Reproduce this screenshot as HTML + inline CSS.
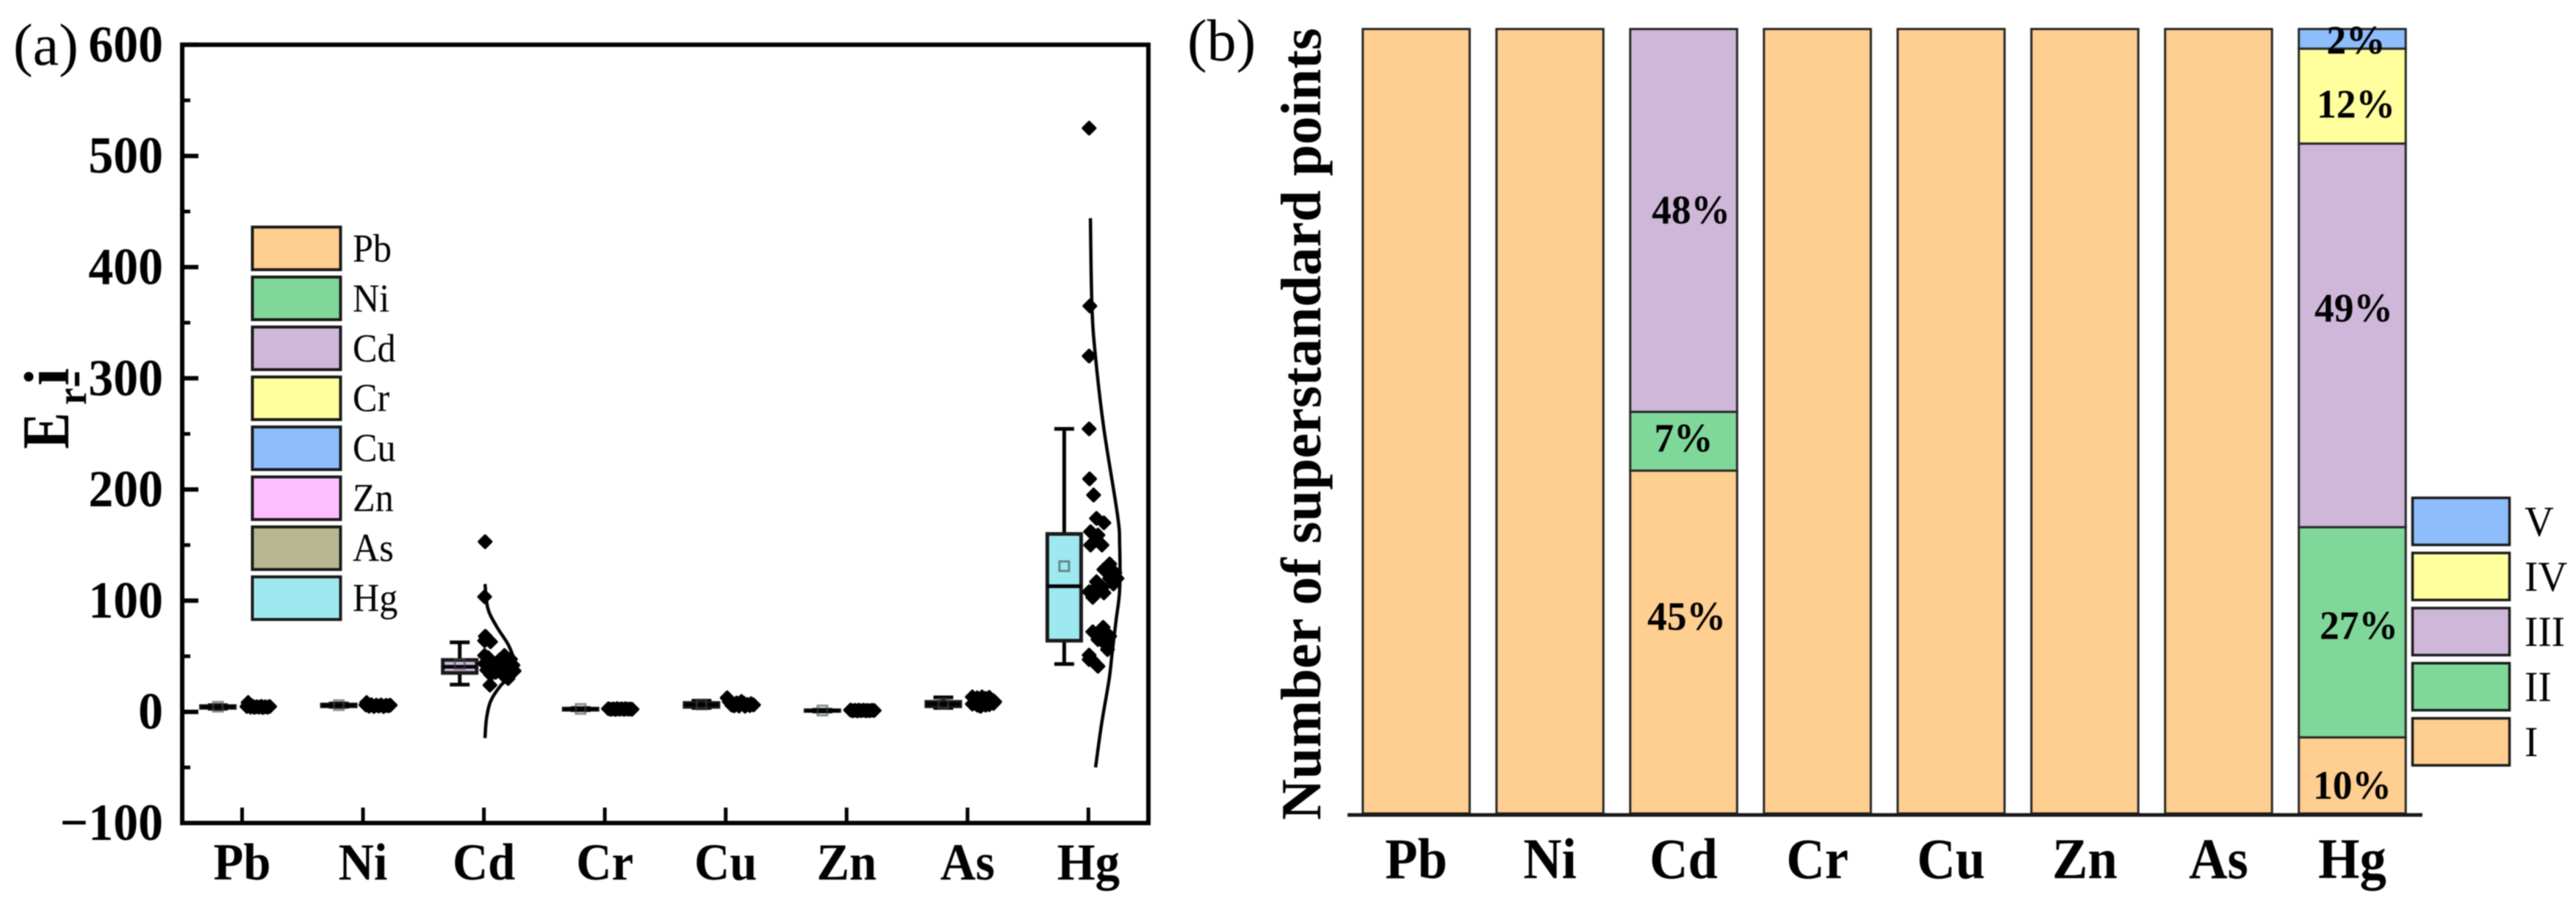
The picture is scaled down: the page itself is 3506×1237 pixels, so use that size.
<!DOCTYPE html>
<html lang="en">
<head>
<meta charset="utf-8">
<title>Er-i box plot and superstandard points stacked bars</title>
<style>
html,body{margin:0;padding:0;background:#fff;width:3506px;height:1237px;overflow:hidden}
svg{display:block;filter:blur(0.7px)}
text{font-family:"Liberation Serif",serif;fill:#000}
.b{font-weight:bold}
</style>
</head>
<body>
<svg id="fig" xmlns="http://www.w3.org/2000/svg" width="3506" height="1237" viewBox="0 0 3506 1237">
<rect width="3506" height="1237" fill="#fff"/>
<text x="18" y="88" font-size="80">(a)</text>
<text x="1616" y="82" font-size="80">(b)</text>
<g>
<text class="b" font-size="91" transform="translate(93,611) rotate(-90) scale(.82,1)">E</text>
<text class="b" font-size="58" transform="translate(117,551) rotate(-90) scale(.9,1)">r</text>
<text class="b" font-size="72" transform="translate(122,528) rotate(-90)">-</text>
<text class="b" font-size="87" transform="translate(93,525) rotate(-90)">i</text>
</g>
<text class="b" font-size="77" textLength="1078" lengthAdjust="spacingAndGlyphs" transform="translate(1797,1116) rotate(-90)">Number of superstandard points</text>
<g id="panelA"></g>
<g id="panelB"></g>
</svg>
<script>
// ---------- shared data ----------
const metals = ['Pb','Ni','Cd','Cr','Cu','Zn','As','Hg'];
const yTicksA = [-100,0,100,200,300,400,500,600];
const yMinorTicksA = [-50,50,150,250,350,450,550];

// ---------- panel (a) box statistics ----------
const whiskerLow = [2.8,4.5,24.5,1.5,3.5,0.3,3.5,43];
const quartile1 = [3.6,5,35,1.9,4.5,0.8,5,64];
const medians = [4.4,5.8,40.5,2.4,6.4,1.1,7,113];
const quartile3 = [5.2,6.6,46.7,2.9,8,1.4,9,160];
const whiskerHigh = [6,7.5,62.5,3.4,10,1.9,13,254.5];
const means = [4.6,6,43,2.6,6.6,1.2,7.4,131];

// ---------- panel (a) points: values and horizontal jitter (category units) ----------
const pbPoints = [8.4,4.8,4.2,5,4,4.6,4.2,4.9,3.9,4.5,4.1,4.8];
const pbJitter = [.05,.04,.07,.09,.1,.12,.14,.16,.17,.19,.21,.228];
const niPoints = [8.4,6.2,5,6.4,4.8,6,5.2,6.2,4.7,5.8,5.4,6];
const niJitter = [.03,.024,.05,.07,.09,.11,.13,.15,.17,.19,.21,.225];
const cdPoints = [153,103.5,68,63,64,50.7,48.7,50.7,47.4,46.7,43.4,42,43.4,42,36.8,37.5,35.5,32,30,38.8,33.5,36.8,45,24];
const cdJitter = [.01,.006,.012,.055,.006,.006,.036,.17,.22,.13,.085,.24,.006,.17,.25,.024,.097,.17,.2,.13,.055,.21,.05,.05];
const crPoints = [2.8,2.2,2.6,2.1,2.9,2.3,2.7,2.2,2.8,2.4,2.5,2.3];
const crJitter = [.03,.05,.07,.09,.1,.12,.14,.16,.17,.19,.21,.225];
const cuPoints = [12.6,9,6,9.4,5.4,8,5.2,7.8,5,6.6,5.6,6.2,7.4];
const cuJitter = [.012,.03,.05,.13,.07,.09,.11,.15,.16,.18,.2,.23,.21];
const znPoints = [1.6,0.9,1.4,0.8,1.5,1,1.5,0.9,1.3,1,1.4,1.2];
const znJitter = [.033,.05,.07,.09,.1,.12,.14,.16,.17,.19,.21,.228];
const asPoints = [13.4,7,12.6,6,13.4,5,12,6,13,6.4,10,7.6,9,5.4];
const asJitter = [.04,.04,.08,.08,.12,.11,.15,.15,.18,.18,.215,.215,.225,.1];
const hgPoints = [525,365,320,254.5,209.5,195,174,170,162,159,150,150,155,133,125,128,120,117,120,108,112,107,115,103,112,124,76,72,68,65,61,56,51,46,41,47,70];
const hgJitter = [.006,.012,.006,.006,.01,.043,.067,.128,.018,.079,.018,.112,.067,.176,.219,.128,.237,.067,.176,.006,.067,.128,.207,.036,.116,.188,.122,.036,.176,.079,.14,.158,.006,.036,.079,.006,.109];

// ---------- panel (a) density curves ----------
const cdCurveValues = [115,93,77,61,50,42,31.5,23.6,9.7,-6,-23.6];
const cdCurveDensity = [0,.095,.38,.76,.93,1,.83,.52,.19,.05,0];
const hgCurveValues = [444,365,319,255,177,150,109.5,82,52.7,29,-11,-50];
const hgCurveDensity = [.03,.08,.2,.475,.93,1,1,.88,.75,.65,.4,.2];

// ---------- panel (b) stacked percentages ----------
const levelNames = ['I','II','III','IV','V'];
const levelI = [100,100,43.7,100,100,100,100,9.7];
const levelII = [0,0,7.5,0,0,0,0,26.8];
const levelIII = [0,0,48.8,0,0,0,0,48.9];
const levelIV = [0,0,0,0,0,0,0,12.1];
const levelV = [0,0,0,0,0,0,0,2.5];
const printedI = ['','','45%','','','','','10%'];
const printedII = ['','','7%','','','','','27%'];
const printedIII = ['','','48%','','','','','49%'];
const printedIV = ['','','','','','','','12%'];
const printedV = ['','','','','','','','2%'];

// ---------- styling and layout (not data) ----------
const metalColors = ['#FFCE91','#7FD89A','#CFB7DA','#FFFF9E','#8DBDFB','#FFBEFF','#B7B791','#9EE9F0'];
const levelColors = ['#FFCE91','#7FD89A','#CFB7DA','#FFFF9E','#8DBDFB'];
const labelNudges = {
  'Cd|0':[4,-36],'Cd|1':[0,-5],'Cd|2':[10,-15],
  'Hg|0':[0,13],'Hg|1':[9,-10],'Hg|2':[2,-38],'Hg|3':[5,10],'Hg|4':[5,1]
};
const NS = 'http://www.w3.org/2000/svg';
function mk(parent, tag, attrs, txt){
  const el = document.createElementNS(NS, tag);
  for (const k in attrs) el.setAttribute(k, attrs[k]);
  if (txt !== undefined) el.textContent = txt;
  parent.appendChild(el);
  return el;
}
function squeezed(parent, x, y, size, sx, anchor, bold, txt){
  const attrs = {transform:'translate(' + x + ',' + y + ') scale(' + sx + ',1)','font-size':size,'text-anchor':anchor};
  if (bold) attrs['class'] = 'b';
  return mk(parent,'text',attrs,txt);
}
function xA(c){ return 329.5 + 164.55 * c; }
function yA(v){ return 968.7 - 1.513 * v; }
function xB(c){ return 1927.5 + 182 * c; }
function yB(p){ return 1107 - 10.675 * p; }
function smooth(pts){
  let d = 'M' + pts[0][0] + ' ' + pts[0][1];
  for (let i = 0; i < pts.length - 1; i++){
    const p0 = pts[Math.max(i-1,0)], p1 = pts[i], p2 = pts[i+1], p3 = pts[Math.min(i+2,pts.length-1)];
    const c1x = p1[0] + (p2[0]-p0[0])/6, c1y = p1[1] + (p2[1]-p0[1])/6;
    const c2x = p2[0] - (p3[0]-p1[0])/6, c2y = p2[1] - (p3[1]-p1[1])/6;
    d += 'C' + c1x + ' ' + c1y + ' ' + c2x + ' ' + c2y + ' ' + p2[0] + ' ' + p2[1];
  }
  return d;
}

// ---------- draw panel (a) ----------
const A = document.getElementById('panelA');
const frame = mk(A,'rect',{x:248,y:yA(600),width:1315,height:yA(-100)-yA(600),fill:'none',stroke:'#000','stroke-width':6});



yTicksA.forEach(function(v){
  const t = mk(A,'line',{x1:248,x2:270,y1:yA(v),y2:yA(v),stroke:'#000','stroke-width':6});
  
  
  const l = squeezed(A,222,yA(v)+23,71,.955,'end',true, v < 0 ? '\u2212' + (-v) : String(v));
  
  
});
yMinorTicksA.forEach(function(v){
  const t = mk(A,'line',{x1:248,x2:259,y1:yA(v),y2:yA(v),stroke:'#000','stroke-width':5});
  
  
});
metals.forEach(function(m,i){
  const t = mk(A,'line',{x1:xA(i),x2:xA(i),y1:1099,y2:1119,stroke:'#000','stroke-width':5});
  
  
  const l = squeezed(A,xA(i),1197,71,.94,'middle',true,m);
  
  
});

// legend (a)
metals.forEach(function(m,i){
  const r = mk(A,'rect',{x:343.5,y:309+i*68,width:120,height:58,fill:metalColors[i],stroke:'#1a1a1a','stroke-width':4});
  
  
  const l = squeezed(A,480,356+i*67.9,54,.93,'start',false,m);
  
  
});

// density curves
function curve(idx, vals, dens, name){
  const pts = vals.map(function(v,k){ return [xA(idx) + 1.5 + dens[k] * 41, yA(v)]; });
  const p = mk(A,'path',{d:smooth(pts),fill:'none',stroke:'#000','stroke-width':4.5});
  
  
}
curve(2, cdCurveValues, cdCurveDensity, 'density-curve-Cd');
curve(7, hgCurveValues, hgCurveDensity, 'density-curve-Hg');

// boxes
metals.forEach(function(m,i){
  const cx = xA(i - 0.2), hw = xA(0.14) - xA(0), cw = xA(0.082) - xA(0);
  const ln = function(x1,y1,x2,y2,n){
    const e = mk(A,'line',{x1:x1,y1:y1,x2:x2,y2:y2,stroke:'#000','stroke-width':5});
    
    
  };
  ln(cx,yA(whiskerHigh[i]),cx,yA(quartile3[i]),'whisker-high-' + m);
  ln(cx,yA(whiskerLow[i]),cx,yA(quartile1[i]),'whisker-low-' + m);
  ln(cx-cw,yA(whiskerHigh[i]),cx+cw,yA(whiskerHigh[i]),'cap-high-' + m);
  ln(cx-cw,yA(whiskerLow[i]),cx+cw,yA(whiskerLow[i]),'cap-low-' + m);
  const b = mk(A,'rect',{x:cx-hw,y:yA(quartile3[i]),width:hw*2,height:yA(quartile1[i])-yA(quartile3[i]),fill:metalColors[i],stroke:'#1a1a1a','stroke-width':5});
  
  
  ln(cx-hw,yA(medians[i]),cx+hw,yA(medians[i]),'median-' + m);
  const s = mk(A,'rect',{x:cx-6.5,y:yA(means[i])-6.5,width:13,height:13,fill:'none',stroke:'rgba(60,70,70,.6)','stroke-width':3});
  
  
});

// points
const allPoints = [pbPoints,niPoints,cdPoints,crPoints,cuPoints,znPoints,asPoints,hgPoints];
const allJitter = [pbJitter,niJitter,cdJitter,crJitter,cuJitter,znJitter,asJitter,hgJitter];
allPoints.forEach(function(vals,i){
  vals.forEach(function(v,k){
    const x = xA(i + allJitter[i][k]), y = yA(v), r = 8;
    const d = mk(A,'path',{d:'M'+x+' '+(y-r)+'L'+(x+r)+' '+y+'L'+x+' '+(y+r)+'L'+(x-r)+' '+y+'Z',fill:'#000',stroke:'#000','stroke-width':4,'stroke-linejoin':'round'});
    
    
  });
});

// ---------- draw panel (b) ----------
const B = document.getElementById('panelB');
const stack = [levelI,levelII,levelIII,levelIV,levelV];
const printed = [printedI,printedII,printedIII,printedIV,printedV];
metals.forEach(function(m,i){
  let base = 0;
  stack.forEach(function(series,s){
    const v = series[i];
    if (!v) return;
    const top = base + v;
    const r = mk(B,'rect',{x:xB(i)-72.75,y:yB(top),width:145.5,height:yB(base)-yB(top),fill:levelColors[s],stroke:'#262626','stroke-width':3});
    
    
    base = top;
  });
});
metals.forEach(function(m,i){
  let base = 0;
  stack.forEach(function(series,s){
    const v = series[i];
    if (!v) return;
    const top = base + v;
    if (printed[s][i]){
      const n = labelNudges[m + '|' + s] || [0,0];
      const l = squeezed(B,xB(i)+n[0],(yB(top)+yB(base))/2+n[1]+19,55,.97,'middle',true,printed[s][i]);
      
      
    }
    base = top;
  });
  const t = squeezed(B,xB(i),1195,78,.93,'middle',true,m);
  
  
});
const axisB = mk(B,'line',{x1:1834,x2:3297,y1:1109,y2:1109,stroke:'#1a1a1a','stroke-width':5});



// legend (b), V on top
levelNames.forEach(function(n,s){
  const row = 4 - s;
  const r = mk(B,'rect',{x:3283.5,y:677.5+row*75,width:132,height:64,fill:levelColors[s],stroke:'#1a1a1a','stroke-width':3.5});
  
  
  const l = squeezed(B,3436,729+row*75,58,.95,'start',false,n);
  
  
});
</script>
</body>
</html>
